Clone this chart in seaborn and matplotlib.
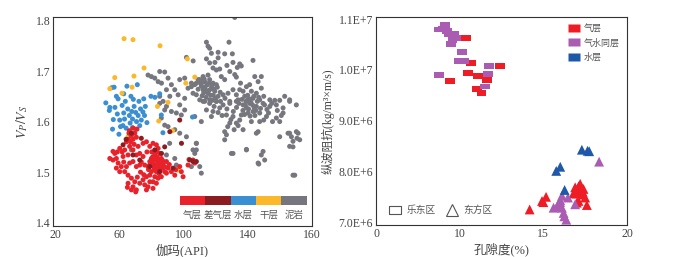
import numpy as np
import pandas as pd
import matplotlib
matplotlib.use("Agg")
import matplotlib.pyplot as plt
from matplotlib.lines import Line2D
from matplotlib.patches import Rectangle
from matplotlib.path import Path
import seaborn as sns

# =========================
# Panel izquierdo: gamma (API) vs Vp/Vs
# =========================
left_classes = ['气层', '差气层', '水层', '干层', '泥岩']
left_colors = ['#e8212b', '#8c1c20', '#3a8fd2', '#fbb829', '#76767e']

gas_pts = [(65.8, 1.577), (67.3, 1.572), (68.3, 1.565), (69.4, 1.577), (70.4, 1.569), (64.2, 1.560),
           (66.2, 1.551), (63.1, 1.544), (60.0, 1.547), (56.9, 1.537), (55.8, 1.541), (57.9, 1.527),
           (59.0, 1.518), (62.1, 1.531), (65.2, 1.534), (68.3, 1.544), (71.5, 1.551), (74.6, 1.557),
           (76.7, 1.560), (78.8, 1.551), (80.8, 1.557), (82.9, 1.554), (84.0, 1.547), (85.0, 1.537),
           (81.9, 1.534), (79.8, 1.527), (78.8, 1.521), (80.8, 1.518), (82.9, 1.524), (86.0, 1.527),
           (87.1, 1.518), (89.2, 1.521), (88.1, 1.511), (85.0, 1.511), (81.9, 1.508), (82.9, 1.501),
           (79.8, 1.501), (77.7, 1.511), (75.6, 1.514), (72.5, 1.514), (70.4, 1.511), (68.3, 1.521),
           (66.2, 1.518), (64.2, 1.511), (63.1, 1.501), (65.2, 1.494), (67.3, 1.488), (69.4, 1.481),
           (68.3, 1.471), (70.4, 1.465), (74.6, 1.485), (76.7, 1.491), (78.8, 1.481), (77.7, 1.471),
           (80.8, 1.481), (84.0, 1.488), (86.0, 1.491), (89.2, 1.498), (92.3, 1.501), (94.4, 1.494),
           (97.5, 1.511), (98.5, 1.501), (99.6, 1.491), (102.7, 1.514), (105.8, 1.524), (106.9, 1.518),
           (82.9, 1.478), (80.8, 1.468), (75.6, 1.475), (72.5, 1.478), (78.8, 1.494), (81.9, 1.491),
           (85.0, 1.504), (88.1, 1.501), (90.2, 1.508), (74.6, 1.531), (72.5, 1.537), (70.4, 1.534),
           (61.0, 1.511), (60.0, 1.501), (55.8, 1.524), (53.8, 1.527), (57.9, 1.508), (65.2, 1.478),
           (67.3, 1.465), (76.7, 1.465), (83.0, 1.515), (84.0, 1.520), (81.0, 1.512), (86.0, 1.515),
           (82.0, 1.528), (79.0, 1.516), (84.5, 1.505), (87.0, 1.508), (80.0, 1.523), (83.5, 1.530),
           (85.5, 1.522), (81.5, 1.505), (70.0, 1.461), (64.8, 1.470), (68.3, 1.587), (70.8, 1.585),
           (66.0, 1.582), (103.3, 1.525), (83.0, 1.540), (77.0, 1.540), (73.0, 1.500), (71.0, 1.490),
           (62.5, 1.520), (58.5, 1.540), (91.0, 1.515), (95.0, 1.505), (84.5, 1.497), (80.0, 1.540),
           (82.5, 1.510), (83.8, 1.526), (80.5, 1.530), (86.8, 1.523), (78.0, 1.505), (84.2, 1.513),
           (66.8, 1.560), (69.0, 1.555), (65.5, 1.565), (61.5, 1.540), (75.0, 1.495), (73.5, 1.520)]
poor_gas_pts = [(67.3, 1.577), (73.5, 1.567), (62.1, 1.554), (81.9, 1.544), (86.1, 1.537), (97.5, 1.603),
                (91.3, 1.580), (88.1, 1.550), (98.6, 1.557), (103.8, 1.524), (105.8, 1.521), (72.5, 1.524),
                (78.8, 1.511), (85.0, 1.501), (93.3, 1.508), (68.3, 1.534), (107.9, 1.521), (64.0, 1.565)]
water_pts = [(51.3, 1.637), (53.8, 1.628), (55.0, 1.667), (56.5, 1.668), (57.9, 1.650), (59.0, 1.645),
             (57.0, 1.628), (58.5, 1.615), (56.0, 1.604), (55.5, 1.585), (60.0, 1.603), (61.5, 1.632),
             (62.5, 1.617), (63.0, 1.605), (62.0, 1.592), (63.5, 1.640), (64.5, 1.670), (65.0, 1.625),
             (66.0, 1.612), (66.5, 1.597), (67.5, 1.620), (68.0, 1.605), (68.5, 1.644), (69.0, 1.630),
             (70.0, 1.618), (70.5, 1.600), (71.5, 1.612), (72.0, 1.640), (73.0, 1.625), (73.5, 1.603),
             (74.5, 1.619), (75.0, 1.645), (75.5, 1.612), (76.0, 1.630), (71.0, 1.673), (68.0, 1.588),
             (64.0, 1.587), (66.0, 1.578), (70.0, 1.585), (72.5, 1.592), (60.5, 1.590), (79.5, 1.650),
             (82.0, 1.648), (85.0, 1.655), (86.0, 1.613), (87.0, 1.578), (105.5, 1.609), (59.5, 1.575),
             (77.0, 1.598), (67.0, 1.650), (62.5, 1.655), (53.5, 1.622)]
dry_pts = [(62.7, 1.764), (68.3, 1.762), (85.2, 1.750), (75.2, 1.706), (56.9, 1.687), (68.9, 1.690),
           (67.7, 1.668), (53.8, 1.665), (61.4, 1.656), (102.3, 1.724), (106.9, 1.688), (101.3, 1.676),
           (90.2, 1.638), (83.6, 1.630), (84.4, 1.601), (93.0, 1.582), (65.2, 1.570), (96.1, 1.504)]
mud_pts = [(114.2, 1.757), (115.2, 1.749), (116.2, 1.745), (128.3, 1.757), (117.3, 1.735), (121.5, 1.737),
           (125.6, 1.734), (130.4, 1.734), (114.2, 1.724), (121.5, 1.726), (130.8, 1.717), (135.0, 1.714),
           (136.0, 1.710), (143.3, 1.721), (116.2, 1.716), (118.3, 1.706), (120.4, 1.702), (122.5, 1.704),
           (128.8, 1.699), (131.9, 1.693), (132.9, 1.688), (125.6, 1.683), (123.5, 1.689), (115.2, 1.692),
           (112.1, 1.689), (110.0, 1.683), (107.9, 1.676), (113.1, 1.679), (116.2, 1.683), (118.3, 1.676),
           (120.4, 1.673), (117.3, 1.666), (112.1, 1.663), (115.2, 1.656), (119.4, 1.660), (121.5, 1.650),
           (124.6, 1.653), (127.7, 1.656), (130.8, 1.663), (139.2, 1.669), (141.2, 1.673), (144.4, 1.689),
           (148.5, 1.689), (146.5, 1.679), (148.5, 1.666), (145.4, 1.656), (138.1, 1.650), (140.2, 1.643),
           (143.3, 1.646), (147.5, 1.643), (153.8, 1.643), (156.9, 1.642), (160.0, 1.642), (163.1, 1.650),
           (166.2, 1.643), (107.9, 1.653), (110.0, 1.643), (113.1, 1.640), (116.2, 1.643), (120.4, 1.640),
           (128.8, 1.640), (134.0, 1.643), (137.1, 1.660), (142.3, 1.660), (132.9, 1.653), (135.0, 1.663),
           (104.8, 1.669), (105.8, 1.656),
           (112.1, 1.640), (116.2, 1.636), (120.4, 1.640), (124.6, 1.633), (128.8, 1.636), (132.9, 1.640),
           (137.1, 1.633), (139.2, 1.627), (141.2, 1.636), (145.4, 1.630), (149.6, 1.636), (153.8, 1.630),
           (157.9, 1.633), (162.1, 1.627), (166.2, 1.640), (170.4, 1.633), (114.2, 1.623), (118.3, 1.620),
           (122.5, 1.627), (126.7, 1.613), (130.8, 1.610), (135.0, 1.603), (132.9, 1.597), (128.8, 1.597),
           (136.0, 1.613), (140.2, 1.617), (143.3, 1.620), (147.5, 1.617), (151.7, 1.610), (157.9, 1.607),
           (160.0, 1.600), (162.1, 1.617), (147.5, 1.600), (142.3, 1.600), (111.0, 1.600), (117.3, 1.610),
           (125.6, 1.580), (126.7, 1.574), (125.6, 1.564), (137.1, 1.584), (145.4, 1.577), (146.5, 1.580),
           (160.0, 1.570), (165.2, 1.577), (167.3, 1.570), (170.4, 1.580), (171.5, 1.577), (168.3, 1.561),
           (166.2, 1.551), (172.5, 1.564), (129.8, 1.537), (139.2, 1.544), (148.5, 1.534), (149.6, 1.541),
           (146.5, 1.518), (107.9, 1.557), (107.9, 1.544), (111.0, 1.498), (169.4, 1.494),
           (85.0, 1.699), (88.1, 1.698), (77.7, 1.692), (79.8, 1.689), (81.9, 1.686), (84.0, 1.679),
           (86.1, 1.676), (90.2, 1.686), (92.3, 1.673), (89.2, 1.663), (94.4, 1.663), (97.5, 1.683),
           (100.6, 1.686), (104.8, 1.676), (102.7, 1.666), (106.9, 1.673), (111.1, 1.676), (101.7, 1.727),
           (105.9, 1.720), (109.0, 1.683), (96.5, 1.653), (100.6, 1.646), (91.3, 1.650), (85.0, 1.650),
           (87.1, 1.640),
           (85.0, 1.636), (89.2, 1.630), (92.3, 1.620), (95.4, 1.617), (98.5, 1.613), (100.6, 1.623),
           (97.5, 1.633), (86.0, 1.607), (88.1, 1.593), (90.2, 1.590), (94.4, 1.584), (97.5, 1.577),
           (101.7, 1.570), (106.9, 1.610), (107.9, 1.557), (105.8, 1.544), (106.9, 1.537), (67.3, 1.544),
           (88.1, 1.623), (91.2, 1.557), (94.4, 1.527), (89.2, 1.534), (95.4, 1.514), (104.8, 1.511),
           (130.8, 1.537), (139.2, 1.545), (146.9, 1.516), (150.6, 1.524), (166.2, 1.577), (168.3, 1.550),
           (168.3, 1.494), (170.8, 1.567), (131.9, 1.806), (110.0, 1.511),
           (113.0, 1.668), (114.5, 1.672), (116.0, 1.662), (117.5, 1.670), (112.5, 1.657), (118.5, 1.652),
           (111.0, 1.670), (114.0, 1.648), (138.5, 1.632), (140.5, 1.625), (142.0, 1.638), (144.0, 1.628),
           (146.0, 1.640), (141.0, 1.645), (139.0, 1.640), (143.0, 1.633), (137.0, 1.622), (145.0, 1.622),
           (127.0, 1.625), (131.0, 1.620), (124.0, 1.612), (133.0, 1.628), (150.0, 1.650), (152.0, 1.624),
           (110.5, 1.676), (112.8, 1.684), (115.8, 1.676), (118.8, 1.664), (121.0, 1.668), (109.0, 1.664),
           (113.8, 1.662), (116.8, 1.652), (119.8, 1.646), (122.8, 1.658), (125.8, 1.646), (123.0, 1.640),
           (134.5, 1.636), (136.5, 1.644), (138.0, 1.614), (141.5, 1.611), (144.5, 1.612), (148.0, 1.626),
           (150.5, 1.633), (153.0, 1.617), (155.0, 1.636), (140.0, 1.652), (143.8, 1.650), (146.8, 1.648),
           (129.5, 1.604), (127.5, 1.590), (134.0, 1.592), (131.5, 1.584), (121.5, 1.618), (119.0, 1.630),
           (158.5, 1.622), (161.0, 1.612), (155.5, 1.600), (150.0, 1.603), (135.5, 1.676), (133.5, 1.707),
           (127.0, 1.711), (119.5, 1.717), (111.5, 1.651), (117.8, 1.642)]

# =========================
# Panel derecho: porosidad vs impedancia
# =========================
ledong_gas = [(10.4, 1.0635e7), (10.7, 1.0145e7), (12.4, 1.0079e7), (10.5, 9.944e6), (11.1, 9.877e6),
              (11.65, 9.796e6), (9.42, 9.788e6), (11.05, 9.627e6), (11.3, 9.540e6)]
ledong_gw = [(9.11, 1.0885e7), (8.77, 1.0796e7), (9.23, 1.0764e7), (9.0, 1.0800e7), (9.35, 1.0700e7),
             (9.66, 1.0716e7), (9.78, 1.0635e7), (9.57, 1.0583e7), (9.48, 1.0510e7), (10.16, 1.0361e7),
             (9.96, 1.0179e7), (10.26, 1.0179e7), (11.74, 1.0079e7), (11.71, 9.923e6), (11.49, 9.675e6),
             (8.77, 9.897e6)]
dongfang_gas = [(14.18, 7.256e6), (14.92, 7.423e6), (15.16, 7.504e6), (15.0, 7.40e6), (16.9, 7.692e6),
                (17.2, 7.76e6), (17.4, 7.659e6), (17.0, 7.571e6), (17.3, 7.55e6), (17.5, 7.49e6),
                (17.1, 7.423e6), (17.6, 7.343e6), (16.8, 7.57e6), (17.2, 7.66e6), (17.0, 7.39e6),
                (17.1, 7.71e6), (17.35, 7.60e6)]
dongfang_gw = [(18.33, 8.196e6), (16.47, 7.49e6), (16.9, 7.357e6), (16.01, 7.437e6), (15.82, 7.32e6),
               (16.11, 7.289e6), (15.61, 7.29e6), (16.21, 7.188e6), (16.25, 7.12e6), (16.37, 7.054e6),
               (16.0, 7.40e6), (16.11, 7.524e6), (15.9, 7.36e6)]
dongfang_water = [(17.3, 8.431e6), (17.64, 8.411e6), (17.74, 8.401e6), (16.01, 8.095e6), (15.77, 8.014e6),
                  (16.27, 7.639e6)]

right_layers = ['气层', '气水同层', '水层']
right_colors = {'气层': '#ee1c24', '气水同层': '#a95cb1', '水层': '#1f58a8'}
right_ticks = [7e6, 8e6, 9e6, 1e7, 1.1e7]
right_ticklabels = ['7.0E+6', '8.0E+6', '9.0E+6', '1.0E+7', '1.1E+7']


def to_df(pts, **cols):
    d = pd.DataFrame(pts, columns=['x', 'y'])
    for k, v in cols.items():
        d[k] = v
    return d


df_left = pd.concat([to_df(mud_pts, cls='泥岩'), to_df(water_pts, cls='水层'), to_df(dry_pts, cls='干层'),
                     to_df(gas_pts, cls='气层'), to_df(poor_gas_pts, cls='差气层')], ignore_index=True)
df_right = pd.concat([to_df(ledong_gas, layer='气层', area='乐东区'),
                      to_df(ledong_gw, layer='气水同层', area='乐东区'),
                      to_df(dongfang_gas, layer='气层', area='东方区'),
                      to_df(dongfang_gw, layer='气水同层', area='东方区'),
                      to_df(dongfang_water, layer='水层', area='东方区')], ignore_index=True)

sns.set_theme(style="white")
plt.rcParams['font.family'] = ['Liberation Serif', 'Noto Sans CJK SC', 'DejaVu Sans']
plt.rcParams['mathtext.fontset'] = 'stix'
plt.rcParams['axes.unicode_minus'] = False

fig = plt.figure(figsize=(6.77, 2.57), dpi=100)
ax1 = fig.add_axes([0.0783, 0.1206, 0.3826, 0.813])
ax2 = fig.add_axes([0.5554, 0.1245, 0.3708, 0.809])

# ---- izquierda ----
sns.scatterplot(data=df_left, x='x', y='y', hue='cls', hue_order=left_classes,
                palette=dict(zip(left_classes, left_colors)), s=13, linewidth=0,
                legend=False, ax=ax1)
ax1.set_xlim(18.3, 180.2)
ax1.set_ylim(1.3935, 1.8067)
ax1.set_xticks([20, 60, 100, 140, 180])
ax1.set_xticklabels(['20', '60', '100', '140', '160'])
ax1.set_yticks([1.4, 1.5, 1.6, 1.7, 1.8])
ax1.set_yticklabels(['1.4', '1.5', '1.6', '1.7', '1.8'])
ax1.set_xlabel('伽玛(API)', fontsize=9, color='#444444', labelpad=2)
ax1.set_ylabel(r'$V_P/V_S$', fontsize=10, color='#444444', labelpad=4)

leg_ax = ax1.inset_axes([0.49, 0.10, 0.49, 0.044])
for i, (lab, c) in enumerate(zip(left_classes, left_colors)):
    leg_ax.add_patch(Rectangle((i, 0), 1, 1, color=c, lw=0))
    leg_ax.text(i + 0.5, -0.55, lab, ha='center', va='top', fontsize=6.8, color='#555555')
leg_ax.set_xlim(0, 5)
leg_ax.set_ylim(0, 1)
leg_ax.axis('off')

# ---- derecha ----
rect = Path([(-1, -0.6), (1, -0.6), (1, 0.6), (-1, 0.6), (-1, -0.6)],
            [Path.MOVETO, Path.LINETO, Path.LINETO, Path.LINETO, Path.CLOSEPOLY])
sns.scatterplot(data=df_right, x='x', y='y', hue='layer', hue_order=right_layers,
                palette=right_colors, style='area', markers={'乐东区': rect, '东方区': '^'},
                s=50, linewidth=0, legend=False, ax=ax2)
ax2.set_xlim(5, 20)
ax2.set_xticks([5, 10, 15, 20])
ax2.set_xticklabels(['0', '10', '15', '20'])
ax2.set_ylim(6.95e6, 1.104e7)
ax2.set_yticks(right_ticks)
ax2.set_yticklabels(right_ticklabels)
ax2.set_xlabel('孔隙度(%)', fontsize=9, color='#444444', labelpad=2)
ax2.set_ylabel('纵波阻抗(kg/m³×m/s)', fontsize=8.5, color='#444444', labelpad=3)

h1 = [Line2D([], [], ls='none', marker=rect, ms=9, mfc=right_colors[k], mec='none', label=k)
      for k in right_layers]
lg1 = ax2.legend(handles=h1, loc='upper right', frameon=False, fontsize=6.5,
                 handletextpad=0.1, labelspacing=0.55, borderaxespad=0.4)
for t in lg1.get_texts():
    t.set_color('#555555')
ax2.add_artist(lg1)
h2 = [Line2D([], [], ls='none', marker=rect, ms=9, mfc='none', mec='#555555', mew=0.8, label='乐东区'),
      Line2D([], [], ls='none', marker='^', ms=8, mfc='none', mec='#555555', mew=0.8, label='东方区')]
lg2 = ax2.legend(handles=h2, loc='lower left', frameon=False, fontsize=7, ncol=2,
                 handletextpad=0.2, columnspacing=0.6, borderaxespad=0.6)
for t in lg2.get_texts():
    t.set_color('#555555')

for ax in (ax1, ax2):
    for sp in ax.spines.values():
        sp.set_color('#333333')
        sp.set_linewidth(0.8)
    ax.tick_params(direction='in', length=2, width=0.6, labelsize=8.5, colors='#333333',
                   labelcolor='#444444', pad=2)

fig.savefig('out.png', dpi=100)
